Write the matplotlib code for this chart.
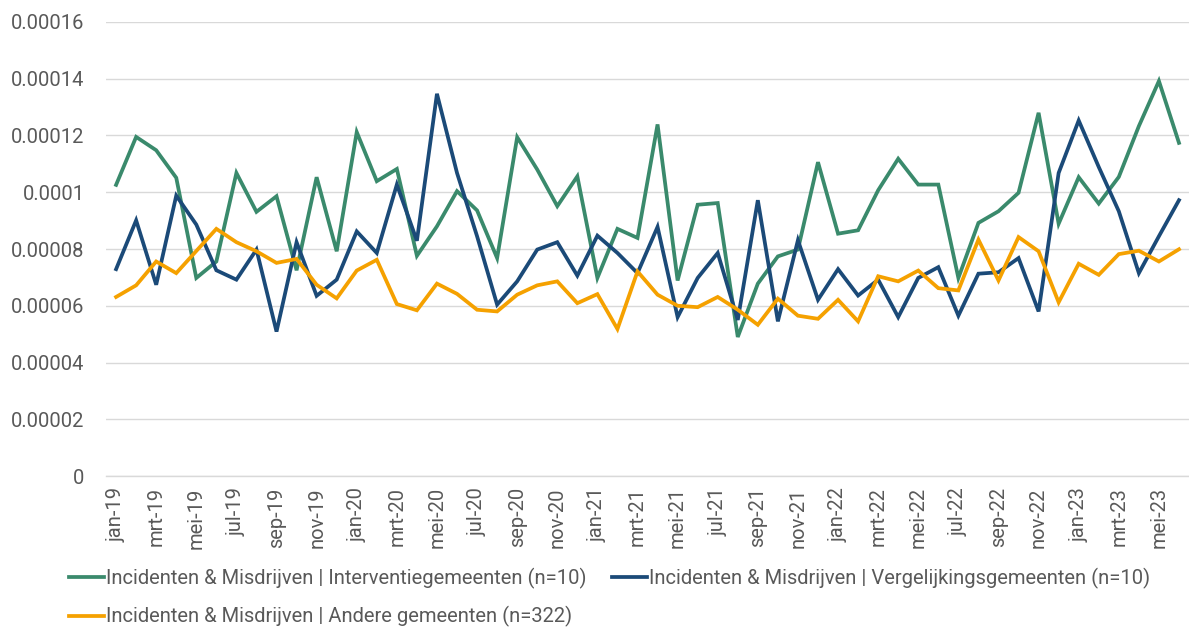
import numpy as np
import matplotlib
matplotlib.use("Agg")
import matplotlib.pyplot as plt
from matplotlib.ticker import FixedLocator, FuncFormatter

# ── Data: monthly rate per group, jan-19 .. jun-23 ──────────────────────────
MONTHS_NL = ["jan", "feb", "mrt", "apr", "mei", "jun",
             "jul", "aug", "sep", "okt", "nov", "dec"]
labels = [f"{m}-{y}" for y in range(19, 24) for m in MONTHS_NL][:54]

interventie = [10.26, 11.95, 11.48, 10.51, 6.98, 7.56, 10.68, 9.31, 9.86, 7.25,
               10.53, 7.92, 12.12, 10.39, 10.82, 7.76, 8.80, 10.04, 9.36, 7.68,
               11.94, 10.80, 9.51, 10.56, 6.98, 8.71, 8.39, 12.39, 6.89, 9.56,
               9.62, 4.90, 6.78, 7.74, 7.98, 11.06, 8.54, 8.66, 10.07, 11.18,
               10.27, 10.27, 6.98, 8.92, 9.33, 9.98, 12.80, 8.89, 10.53, 9.60,
               10.54, 12.33, 13.92, 11.74]

vergelijking = [7.29, 9.01, 6.74, 9.88, 8.86, 7.25, 6.92, 7.98, 5.09, 8.24,
                6.35, 6.92, 8.62, 7.86, 10.27, 8.29, 13.47, 10.68, 8.45, 6.04,
                6.86, 7.98, 8.24, 7.06, 8.47, 7.86, 7.15, 8.78, 5.60, 6.98,
                7.86, 5.50, 9.72, 5.45, 8.31, 6.21, 7.29, 6.36, 6.92, 5.60,
                6.98, 7.36, 5.65, 7.13, 7.18, 7.68, 5.80, 10.68, 12.53, 10.89,
                9.33, 7.15, 8.45, 9.72]

andere = [6.31, 6.72, 7.56, 7.15, 7.93, 8.71, 8.24, 7.92, 7.51, 7.65,
          6.74, 6.26, 7.24, 7.62, 6.06, 5.84, 6.78, 6.42, 5.86, 5.80,
          6.39, 6.72, 6.86, 6.09, 6.41, 5.18, 7.21, 6.39, 6.00, 5.95,
          6.31, 5.86, 5.33, 6.25, 5.65, 5.54, 6.21, 5.45, 7.04, 6.86,
          7.24, 6.62, 6.54, 8.33, 6.89, 8.42, 7.92, 6.12, 7.48, 7.09,
          7.82, 7.94, 7.56, 7.99]

SCALE = 1e-5
series = [
    ("Incidenten & Misdrijven | Interventiegemeenten (n=10)", interventie, "#3A8A6C"),
    ("Incidenten & Misdrijven | Andere gemeenten (n=322)", andere, "#F5A100"),
    ("Incidenten & Misdrijven | Vergelijkingsgemeenten (n=10)", vergelijking, "#1B4A78"),
]

TEXT = "#595959"
GRID = "#D9D9D9"
FS = 14.5

plt.rcParams.update({
    "font.family": ["Roboto", "DejaVu Sans"],
    "font.size": FS,
})

fig = plt.figure(figsize=(11.89, 6.28), dpi=100)
ax = fig.add_axes([0.0892, 0.242, 0.9108, 0.723])

x = np.arange(len(labels))
handles = {}
# draw order: green, navy, orange (orange on top)
for name, vals, col in [series[0], series[2], series[1]]:
    (ln,) = ax.plot(x, np.array(vals) * SCALE, color=col, lw=2.7,
                    solid_joinstyle="miter", label=name)
    handles[name] = ln

ax.set_xlim(-0.5, len(labels) - 0.5)
ax.set_ylim(0, 0.00016)
ax.yaxis.set_major_locator(FixedLocator(np.arange(0, 0.000161, 0.00002)))
ax.yaxis.set_major_formatter(FuncFormatter(
    lambda v, p: "0" if v == 0 else f"{v:.5f}".rstrip("0")))

ax.set_xticks(x[::2])
ax.set_xticklabels(labels[::2], rotation=90)
ax.tick_params(axis="both", length=0, colors=TEXT, labelsize=FS)
ax.tick_params(axis="x", pad=8)
ax.tick_params(axis="y", pad=15.5)

ax.grid(axis="y", color=GRID, lw=1.0)
ax.set_axisbelow(True)
for s in ["top", "right", "left"]:
    ax.spines[s].set_visible(False)
ax.spines["bottom"].set_color(GRID)
ax.spines["bottom"].set_linewidth(1.0)

order = [series[0][0], series[1][0], series[2][0]]
leg = fig.legend([handles[n] for n in order], order, ncol=2,
                 loc="upper left", bbox_to_anchor=(0.058, 0.096),
                 borderpad=0, borderaxespad=0,
                 frameon=False, fontsize=FS, handlelength=1.74,
                 handletextpad=0.1, columnspacing=1.25, labelspacing=0.87,
                 labelcolor=TEXT)

fig.savefig("out.png", dpi=100)
